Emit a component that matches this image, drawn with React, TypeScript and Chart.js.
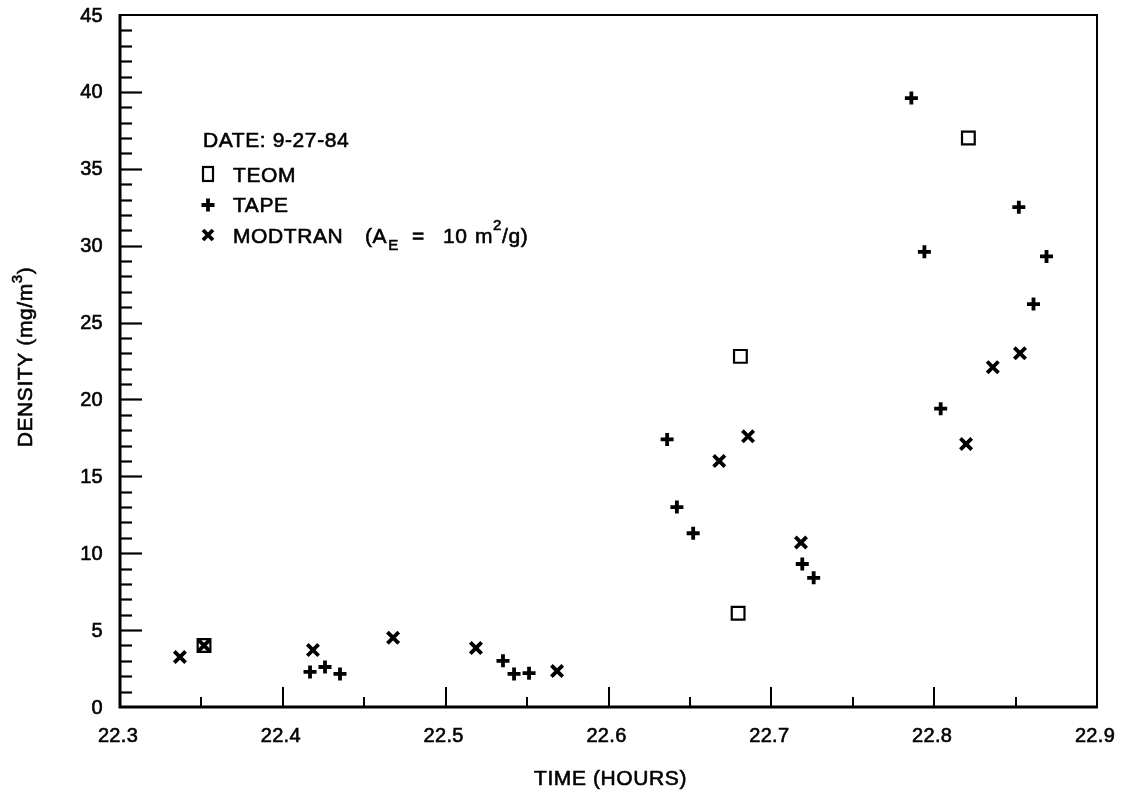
import React, { useEffect, useRef } from 'react';
import { Chart, registerables } from 'chart.js';

Chart.register(...registerables);

// ---- Data ----
const TEOM_TIME = [22.3516, 22.6796, 22.681, 22.821];
const TEOM_DENSITY = [4.0, 6.1, 22.8, 37.0];

const TAPE_TIME = [22.4167, 22.4259, 22.4351, 22.5352, 22.542, 22.5512, 22.636, 22.642, 22.652, 22.719, 22.726, 22.786, 22.794, 22.804, 22.852, 22.861, 22.869];
const TAPE_DENSITY = [2.28, 2.6, 2.15, 3.0, 2.15, 2.2, 17.4, 13.0, 11.3, 9.3, 8.4, 39.6, 29.6, 19.4, 32.5, 26.2, 29.3];

const MODTRAN_TIME = [22.3368, 22.3516, 22.4185, 22.4677, 22.5186, 22.5684, 22.668, 22.6857, 22.7182, 22.8196, 22.836, 22.8527];
const MODTRAN_DENSITY = [3.25, 4.0, 3.7, 4.5, 3.84, 2.34, 16.0, 17.6, 10.7, 17.1, 22.1, 23.0];

const X_TICK_LABELS = ['22.3', '22.4', '22.5', '22.6', '22.7', '22.8', '22.9'];
const Y_TICK_LABELS = ['0', '5', '10', '15', '20', '25', '30', '35', '40', '45'];
const X_MIN = 22.3;
const X_MAX = 22.9;
const Y_MIN = 0;
const Y_MAX = 45;
const X_MINOR_STEP = 0.05;
const Y_MINOR_STEP = 1;

const DATE_LABEL = 'DATE: 9-27-84';
const SERIES_NAMES = ['TEOM', 'TAPE', 'MODTRAN'];
const X_TITLE = 'TIME (HOURS)';

const FONT = "'Liberation Sans', Arial, Helvetica, sans-serif";

function toPoints(xs: number[], ys: number[]) {
  return xs.map((x, i) => ({ x, y: ys[i] }));
}

function txt(ctx: CanvasRenderingContext2D, s: string, x: number, y: number) {
  ctx.fillText(s, x, y);
  ctx.strokeText(s, x, y);
}

const framePlugin = {
  id: 'frameTicks',
  beforeDatasetsDraw(chart: any) {
    const { ctx, chartArea, scales } = chart;
    const { left, right, top, bottom } = chartArea;
    const xs = scales.x;
    const ys = scales.y;
    ctx.save();
    ctx.strokeStyle = '#000';
    ctx.lineCap = 'butt';
    // frame
    ctx.lineWidth = 2;
    ctx.beginPath();
    ctx.moveTo(left, top);
    ctx.lineTo(right, top);
    ctx.lineTo(right, bottom);
    ctx.stroke();
    ctx.lineWidth = 3;
    ctx.beginPath();
    ctx.moveTo(left, top - 1);
    ctx.lineTo(left, bottom);
    ctx.lineTo(right + 1, bottom);
    ctx.stroke();
    // y ticks (inward)
    ctx.lineWidth = 2.2;
    const nY = Math.round((Y_MAX - Y_MIN) / Y_MINOR_STEP);
    for (let i = 1; i < nY; i++) {
      const v = Y_MIN + i * Y_MINOR_STEP;
      const py = Math.round(ys.getPixelForValue(v)) + 0.5;
      const len = i % 5 === 0 ? 22 : 12;
      ctx.beginPath();
      ctx.moveTo(left, py);
      ctx.lineTo(left + len, py);
      ctx.stroke();
    }
    // x ticks (inward)
    ctx.lineWidth = 2;
    const nX = Math.round((X_MAX - X_MIN) / X_MINOR_STEP);
    for (let i = 1; i < nX; i++) {
      const v = X_MIN + i * X_MINOR_STEP;
      const px = Math.round(xs.getPixelForValue(v));
      const len = i % 2 === 0 ? 20 : 10;
      ctx.beginPath();
      ctx.moveTo(px, bottom);
      ctx.lineTo(px, bottom - len);
      ctx.stroke();
    }

    // tick labels
    ctx.fillStyle = '#000';
    ctx.lineWidth = 0.6;
    ctx.font = `20px ${FONT}`;
    (ctx as any).letterSpacing = '0.3px';
    ctx.textAlign = 'right';
    ctx.textBaseline = 'middle';
    Y_TICK_LABELS.forEach((t) => {
      const py = ys.getPixelForValue(parseFloat(t));
      txt(ctx, t, left - 17, py + 1);
    });
    ctx.textAlign = 'center';
    X_TICK_LABELS.forEach((t) => {
      const px = xs.getPixelForValue(parseFloat(t));
      txt(ctx, t, px - 2, bottom + 29);
    });
    ctx.restore();
  },
  afterDraw(chart: any) {
    const { ctx, chartArea } = chart;
    const { left, right, top, bottom } = chartArea;
    ctx.save();
    ctx.fillStyle = '#000';
    ctx.strokeStyle = '#000';
    (ctx as any).letterSpacing = '0.6px';

    // ---- Legend ----
    const symX = 208;
    const textX = 233;
    ctx.font = `21px ${FONT}`;
    ctx.textBaseline = 'alphabetic';
    ctx.textAlign = 'left';
    ctx.lineWidth = 0.6;
    txt(ctx, DATE_LABEL, 203, 147);

    // TEOM
    ctx.lineWidth = 2.2;
    ctx.strokeRect(symX - 5, 167, 10, 14);
    ctx.lineWidth = 0.6;
    txt(ctx, SERIES_NAMES[0], textX, 182);

    // TAPE (plus)
    ctx.lineWidth = 3.8;
    ctx.beginPath();
    ctx.moveTo(symX - 6.5, 205);
    ctx.lineTo(symX + 6.5, 205);
    ctx.moveTo(symX, 198.5);
    ctx.lineTo(symX, 211.5);
    ctx.stroke();
    ctx.lineWidth = 0.6;
    txt(ctx, SERIES_NAMES[1], textX, 212);

    // MODTRAN (x)
    ctx.lineWidth = 3.8;
    ctx.beginPath();
    ctx.moveTo(symX - 5, 230);
    ctx.lineTo(symX + 5, 240);
    ctx.moveTo(symX + 5, 230);
    ctx.lineTo(symX - 5, 240);
    ctx.stroke();
    ctx.lineWidth = 0.6;
    const baseY = 243;
    let cx = textX;
    ctx.font = `21px ${FONT}`;
    txt(ctx, SERIES_NAMES[2], cx, baseY);
    cx = 365;
    txt(ctx, '(A', cx, baseY);
    cx += ctx.measureText('(A').width;
    ctx.font = `15px ${FONT}`;
    txt(ctx, 'E', cx + 1, baseY + 7);
    ctx.font = `21px ${FONT}`;
    txt(ctx, '=', 412, baseY);
    txt(ctx, '10', 443, baseY);
    txt(ctx, 'm', 475, baseY);
    cx = 475 + ctx.measureText('m').width;
    ctx.font = `15px ${FONT}`;
    txt(ctx, '2', cx, baseY - 13);
    cx += ctx.measureText('2').width;
    ctx.font = `21px ${FONT}`;
    txt(ctx, '/g)', cx, baseY);

    // ---- Axis titles ----
    ctx.font = `21px ${FONT}`;
    ctx.textAlign = 'center';
    ctx.textBaseline = 'middle';
    txt(ctx, X_TITLE, (left + right) / 2 + 2, 779);

    // Y title rotated with superscript
    ctx.translate(26, (top + bottom) / 2 - 4);
    ctx.rotate(-Math.PI / 2);
    ctx.textAlign = 'left';
    ctx.textBaseline = 'middle';
    const partA = 'DENSITY (mg/m';
    const partB = '3';
    const partC = ')';
    ctx.font = `21px ${FONT}`;
    const wA = ctx.measureText(partA).width;
    const wC = ctx.measureText(partC).width;
    ctx.font = `15px ${FONT}`;
    const wB = ctx.measureText(partB).width;
    const total = wA + wB + wC;
    let tx = -total / 2;
    ctx.font = `21px ${FONT}`;
    txt(ctx, partA, tx, 0);
    tx += wA;
    ctx.font = `15px ${FONT}`;
    txt(ctx, partB, tx, -8);
    tx += wB;
    ctx.font = `21px ${FONT}`;
    txt(ctx, partC, tx, 0);
    ctx.restore();
  },
};

export default function App() {
  const canvasRef = useRef<HTMLCanvasElement | null>(null);

  useEffect(() => {
    const canvas = canvasRef.current;
    if (!canvas) return;
    const chart = new Chart(canvas, {
      type: 'scatter',
      data: {
        datasets: [
          {
            label: SERIES_NAMES[0],
            data: toPoints(TEOM_TIME, TEOM_DENSITY),
            pointStyle: 'rect',
            pointRadius: 9,
            pointBorderWidth: 2.2,
            borderColor: '#000',
            backgroundColor: 'rgba(0,0,0,0)',
            pointBackgroundColor: 'rgba(0,0,0,0)',
            pointBorderColor: '#000',
            clip: false,
          },
          {
            label: SERIES_NAMES[1],
            data: toPoints(TAPE_TIME, TAPE_DENSITY),
            pointStyle: 'cross',
            pointRadius: 6.5,
            pointBorderWidth: 3.8,
            borderColor: '#000',
            pointBorderColor: '#000',
            backgroundColor: '#000',
            clip: false,
          },
          {
            label: SERIES_NAMES[2],
            data: toPoints(MODTRAN_TIME, MODTRAN_DENSITY),
            pointStyle: 'crossRot',
            pointRadius: 8,
            pointBorderWidth: 3.8,
            borderColor: '#000',
            pointBorderColor: '#000',
            backgroundColor: '#000',
            clip: false,
          },
        ],
      },
      options: {
        animation: false,
        responsive: false,
        devicePixelRatio: 1,
        layout: { padding: { top: 15, right: 27, bottom: 0, left: 0 } },
        plugins: {
          legend: { display: false },
          tooltip: { enabled: false },
          title: { display: false },
        },
        scales: {
          x: {
            type: 'linear',
            min: X_MIN,
            max: X_MAX,
            grid: { display: false, drawTicks: false },
            border: { display: false },
            ticks: { display: false },
            afterFit: (scale: any) => {
              scale.height = 99;
              scale.paddingLeft = 0;
              scale.paddingRight = 0;
            },
          },
          y: {
            type: 'linear',
            min: Y_MIN,
            max: Y_MAX,
            grid: { display: false, drawTicks: false },
            border: { display: false },
            ticks: { display: false },
            afterFit: (scale: any) => {
              scale.width = 120;
              scale.paddingTop = 0;
              scale.paddingBottom = 0;
            },
          },
        },
      },
      plugins: [framePlugin],
    });
    return () => chart.destroy();
  }, []);

  return (
    <div style={{ position: 'fixed', left: 0, top: 0, width: 1124, height: 806, background: '#fff' }}>
      <canvas ref={canvasRef} width={1124} height={806} style={{ display: 'block' }} />
    </div>
  );
}
